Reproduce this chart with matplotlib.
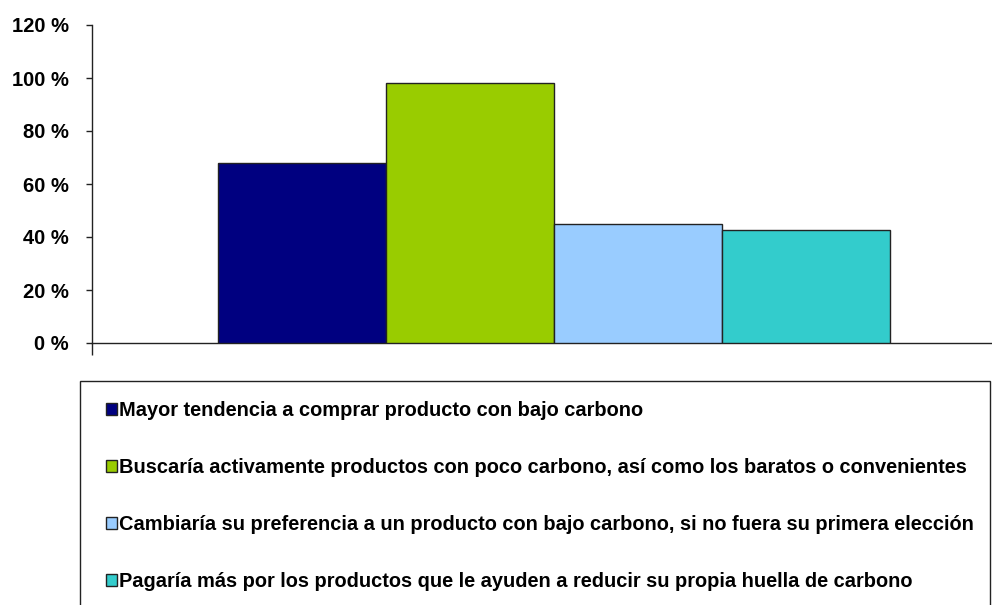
import matplotlib
matplotlib.use("Agg")
import matplotlib.pyplot as plt
from matplotlib.patches import Rectangle, Patch
from matplotlib.ticker import FixedLocator

categories = [
    "Mayor tendencia a comprar producto con bajo carbono",
    "Buscaría activamente productos con poco carbono, así como los baratos o convenientes",
    "Cambiaría su preferencia a un producto con bajo carbono, si no fuera su primera elección",
    "Pagaría más por los productos que le ayuden a reducir su propia huella de carbono",
]
values = [68, 98, 45, 42.6]
colors = ["#000080", "#99CC00", "#99CCFF", "#33CCCC"]
yticks = [0, 20, 40, 60, 80, 100, 120]
ytick_labels = ["0 %", "20 %", "40 %", "60 %", "80 %", "100 %", "120 %"]

W, H = 992, 605
fig = plt.figure(figsize=(W / 100, H / 100), dpi=100)
left, right, top, bottom = 92, 1016, 25, 343
ax = fig.add_axes([left / W, (H - bottom) / H, (right - left) / W, (bottom - top) / H])

xs = list(range(len(values)))
handles = []
for x, v, c, lab in zip(xs, values, colors, categories):
    ax.bar(x, v, width=1.0, color=c, edgecolor="#222222", linewidth=1.0, zorder=3)
    handles.append(Patch(facecolor=c, edgecolor="#222222", linewidth=1.0, label=lab))

ax.set_xlim(-1.25, 4.25)
ax.set_ylim(0, 120)
ax.yaxis.set_major_locator(FixedLocator(yticks))
ax.set_yticklabels(ytick_labels, fontfamily="Liberation Sans", fontweight="bold", fontsize=14.5)
ax.tick_params(axis="y", direction="out", length=4.5, width=1.0, color="#222222", pad=12)
ax.set_xticks([-1.25])
ax.set_xticklabels([""])
ax.tick_params(axis="x", direction="out", length=8.6, width=1.0, color="#222222")
for s in ["top", "right"]:
    ax.spines[s].set_visible(False)
for s in ["left", "bottom"]:
    ax.spines[s].set_color("#222222")
    ax.spines[s].set_linewidth(1.0)

# legend frame
fig.patches.append(Rectangle((80 / W, -0.05), (990 - 80) / W, 0.05 + (H - 381) / H,
                             transform=fig.transFigure, fill=False, edgecolor="#222222",
                             linewidth=1.0))
leg = fig.legend(handles=handles, loc="upper left", bbox_to_anchor=(106 / W, (H - 401) / H),
                 frameon=False, handlelength=0.55, handleheight=0.6, handletextpad=0.12,
                 labelspacing=1.9, borderaxespad=0, borderpad=0,
                 prop={"family": "Liberation Sans", "weight": "bold", "size": 14.4})

fig.savefig("out.png", dpi=100)
